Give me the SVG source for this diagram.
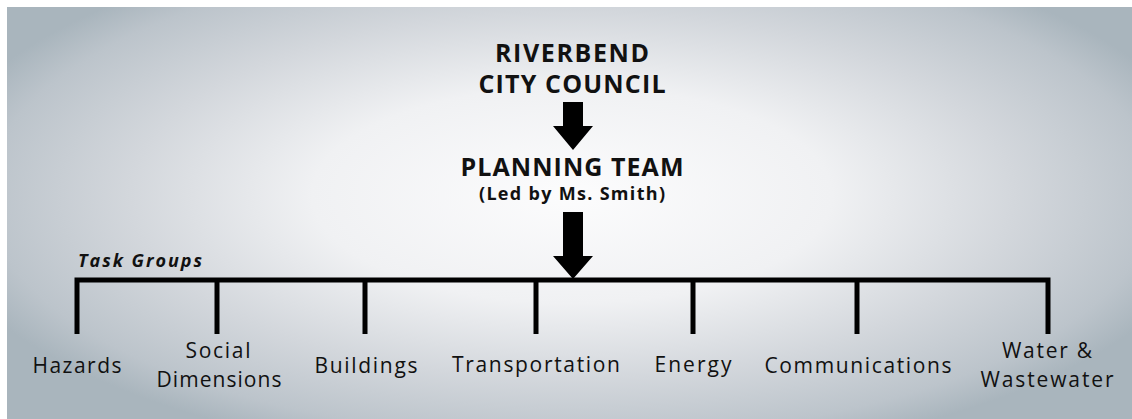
<svg xmlns="http://www.w3.org/2000/svg" width="1132" height="419" viewBox="0 0 1132 419">
<defs>
<radialGradient id="bg" gradientUnits="userSpaceOnUse" cx="0" cy="0" r="1" gradientTransform="translate(572 195) scale(650 270)">
<stop offset="0" stop-color="#fcfcfd"/>
<stop offset="0.4" stop-color="#f0f1f3"/>
<stop offset="0.68" stop-color="#d3d7dc"/>
<stop offset="0.9" stop-color="#bcc4cb"/>
<stop offset="1.3" stop-color="#a9b5bd"/>
</radialGradient>
<style>
.t{font-family:"Open Sans","Noto Sans","DejaVu Sans",sans-serif;fill:#111;text-anchor:middle}
.h{font-weight:700;font-size:25px}
.s{font-weight:700;font-size:18px}
.l{font-weight:400;font-size:21px}
.i{font-family:"Open Sans","Noto Sans",sans-serif;font-weight:700;font-style:italic;font-size:18px;fill:#111}
.ln{stroke:#000;stroke-width:5;fill:none}
</style>
</defs>
<rect width="1132" height="419" fill="#ffffff"/>
<rect x="7" y="7" width="1125" height="412" fill="url(#bg)"/>

<g id="connectors">
<polygon points="563,102 583,102 583,126 593,126 573,150 553,126 563,126" fill="#000"/>
<polygon points="563,212 583,212 583,256 593,256 573,279 553,256 563,256" fill="#000"/>
<path class="ln" d="M77,334 V280 H1048 V334"/>
<path class="ln" d="M217,280 V334 M365,280 V334 M536,280 V334 M693,280 V334 M857,280 V334"/>
</g>

<g id="council">
<text class="t h" x="572" y="62" textLength="154" lengthAdjust="spacing">RIVERBEND</text>
<text class="t h" x="572" y="93" textLength="187" lengthAdjust="spacing">CITY COUNCIL</text>
</g>
<g id="planning-team">
<text class="t h" x="572" y="176" textLength="223" lengthAdjust="spacing">PLANNING TEAM</text>
<text class="t s" x="572" y="200" textLength="186" lengthAdjust="spacing">(Led by Ms. Smith)</text>
</g>
<g id="task-groups-label">
<text class="i" x="78" y="267" textLength="124" lengthAdjust="spacing">Task Groups</text>
</g>
<g id="hazards"><text class="t l" x="77" y="373" textLength="89" lengthAdjust="spacing">Hazards</text></g>
<g id="social">
<text class="t l" x="218" y="358" textLength="65" lengthAdjust="spacing">Social</text>
<text class="t l" x="219" y="387" textLength="125" lengthAdjust="spacing">Dimensions</text>
</g>
<g id="buildings"><text class="t l" x="366" y="373" textLength="103" lengthAdjust="spacing">Buildings</text></g>
<g id="transportation"><text class="t l" x="536" y="372" textLength="168" lengthAdjust="spacing">Transportation</text></g>
<g id="energy"><text class="t l" x="693" y="372" textLength="77" lengthAdjust="spacing">Energy</text></g>
<g id="communications"><text class="t l" x="858" y="373" textLength="187" lengthAdjust="spacing">Communications</text></g>
<g id="water">
<text class="t l" x="1047" y="358" textLength="90" lengthAdjust="spacing">Water &amp;</text>
<text class="t l" x="1047" y="387" textLength="133" lengthAdjust="spacing">Wastewater</text>
</g>
</svg>
